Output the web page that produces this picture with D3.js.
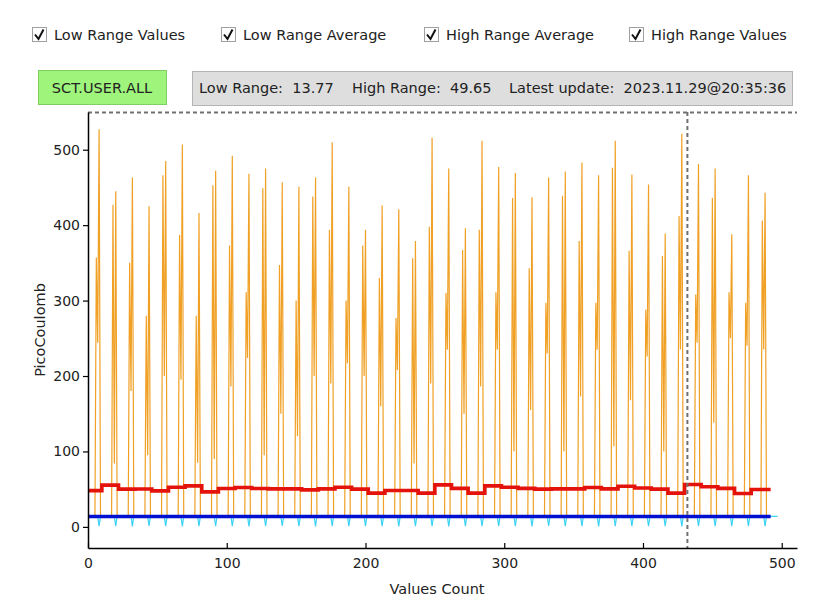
<!DOCTYPE html>
<html>
<head>
<meta charset="utf-8">
<script src="https://cdn.jsdelivr.net/npm/d3@7"></script>
<style>
  html, body { margin: 0; padding: 0; background: #ffffff; }
  svg { display: block; font-family: "DejaVu Sans", sans-serif; }
</style>
</head>
<body>
<svg id="chart" width="820" height="603"></svg>
<script>
// Series legend entries
const legendLabels = ["Low Range Values", "Low Range Average", "High Range Average", "High Range Values"];

// Status bar
const channelName = "SCT.USER.ALL";
const lowRangeLatest = 13.77;
const highRangeLatest = 49.65;
const latestUpdate = "2023.11.29@20:35:36";

// Sample indices where a pulse occurs
const pulseIndex = [8, 20, 32, 44, 56, 68, 80, 92, 104, 116, 128, 140, 152, 164, 176, 188, 200, 212, 224, 236, 248,
  260, 272, 284, 296, 308, 320, 332, 344, 356, 368, 380, 392, 404, 416, 428, 440, 452, 464, 476, 488];

// High range pulse: peak value, and the two intermediate readings on its flanks
const highPeak = [527, 445, 463, 425, 485, 507, 416, 472, 492, 468, 475, 457, 451, 463, 510, 451, 394,
  426, 421, 379, 516, 475, 396, 512, 477, 469, 437, 463, 471, 483,
  466, 512, 467, 454, 389, 521, 481, 475, 388, 466, 443];
const highUpper = [357, 427, 350, 280, 466, 387, 280, 453, 373, 311, 449, 347, 300, 438, 394, 300, 373,
  330, 277, 356, 398, 310, 367, 394, 311, 436, 343, 297, 439, 379,
  297, 476, 366, 288, 359, 412, 308, 436, 311, 297, 406];
const highLower = [244, 84, 180, 95, 200, 195, 85, 90, 186, 224, 95, 150, 120, 200, 190, 217, 200,
  160, 208, 84, 190, 235, 150, 186, 235, 100, 155, 230, 100, 173,
  235, 107, 168, 226, 100, 235, 244, 138, 250, 240, 235];
const highBaseline = 13.5;
const highCount = 493;

// Low range: resting level and the dip reached at each pulse
const lowBaseline = 13.9;
const lowDip = [0.8, 1.0, 0.6, 1.2, 0.9, 0.7, 1.1, 0.8, 1.0, 0.6, 0.9, 1.2, 0.8, 0.7, 1.0, 0.9, 1.1,
  0.8, 0.6, 1.0, 0.9, 0.7, 1.1, 0.8, 1.0, 0.9, 0.6, 1.2, 0.8, 1.0,
  0.7, 0.9, 1.1, 0.8, 1.0, 0.6, 0.9, 1.0, 0.8, 1.1, 0.9];
const lowCount = 498;

// Running averages (step values)
const lowAverage = [13.77, 13.77];
const lowAverageAt = [0, 492];
const highAverageAt = [0, 10, 22, 34, 46, 58, 70, 82, 94, 106, 118, 130, 142, 154, 166, 178, 190, 202, 214, 226,
  238, 250, 262, 274, 286, 298, 310, 322, 334, 346, 358, 370, 382, 394, 406, 418, 430, 442, 454, 466, 478];
const highAverage = [48.1, 55.3, 50.0, 50.2, 47.7, 52.6, 54.4, 46.4, 50.8, 52.2, 50.8, 50.4, 50.4, 49.1, 50.4,
  52.6, 50.0, 44.7, 48.3, 48.3, 44.7, 55.7, 51.1, 44.7, 54.4, 52.6, 51.1, 50.0, 50.4, 50.4,
  52.2, 50.4, 53.9, 51.6, 50.0, 44.7, 56.2, 53.1, 51.1, 44.3, highRangeLatest];
const highAverageEnd = 492;

// Axis ticks and cursor
const xTicks = [0, 100, 200, 300, 400, 500];
const yTicks = [0, 100, 200, 300, 400, 500];
const xDomain = [0, 511];
const yDomain = [-28, 550];
const cursorX = 432;
const cursorY = 550;

// Build the sample series
const highValues = d3.range(highCount).map(() => highBaseline);
pulseIndex.forEach((p, k) => {
  highValues[p - 2] = highUpper[k];
  highValues[p - 1] = highLower[k];
  highValues[p] = highPeak[k];
});
const lowValues = d3.range(lowCount).map(() => lowBaseline);
pulseIndex.forEach((p, k) => { lowValues[p] = lowDip[k]; });

const svg = d3.select("#chart");

// Legend checkboxes
const legendX = [32, 221, 424, 629];
legendLabels.forEach((t, i) => {
  const g = svg.append("g").attr("transform", `translate(${legendX[i]},27)`);
  g.append("rect").attr("x", 0.5).attr("y", 0.5).attr("width", 14).attr("height", 14)
    .attr("fill", "#fff").attr("stroke", "#a0a0a0");
  g.append("path").attr("d", "M3,7.5 L6.5,12 L11.5,2.5")
    .attr("fill", "none").attr("stroke", "#111").attr("stroke-width", 2);
  g.append("text").attr("x", 22).attr("y", 12.5).attr("font-size", 14.5).attr("fill", "#222").text(t);
});

// Status bar
svg.append("rect").attr("x", 38.5).attr("y", 70.5).attr("width", 128).attr("height", 34)
  .attr("fill", "#9ff47c").attr("stroke", "#7fcf60");
svg.append("text").attr("x", 102).attr("y", 92.5).attr("text-anchor", "middle")
  .attr("font-size", 14.5).attr("fill", "#222").text(channelName);
svg.append("rect").attr("x", 192.5).attr("y", 71.5).attr("width", 600).attr("height", 34)
  .attr("fill", "#dedede").attr("stroke", "#b4b4b4");
const status = [
  { x: 199, t: `Low Range:  ${lowRangeLatest.toFixed(2)}` },
  { x: 352, t: `High Range:  ${highRangeLatest.toFixed(2)}` },
  { x: 509, t: `Latest update:  ${latestUpdate}` }
];
status.forEach(s => {
  svg.append("text").attr("x", s.x).attr("y", 93).attr("font-size", 14.5).attr("fill", "#222")
    .attr("xml:space", "preserve").style("white-space", "pre").text(s.t);
});

// Plot
const x = d3.scaleLinear().domain(xDomain).range([88, 797]);
const y = d3.scaleLinear().domain(yDomain).range([548, 112]);

const clip = svg.append("defs").append("clipPath").attr("id", "plotclip");
clip.append("rect").attr("x", 88).attr("y", 112).attr("width", 709).attr("height", 436);
const plot = svg.append("g").attr("clip-path", "url(#plotclip)");

const line = d3.line().x((d, i) => x(i)).y(d => y(d));

plot.append("path").datum(highValues).attr("d", line)
  .attr("fill", "none").attr("stroke", "#f0a024").attr("stroke-width", 1.2);

plot.append("path").datum(lowValues).attr("d", line)
  .attr("fill", "none").attr("stroke", "#3fd2f2").attr("stroke-width", 1.2);

plot.append("path").datum(lowAverage.map((v, i) => [lowAverageAt[i], v]))
  .attr("d", d3.line().x(d => x(d[0])).y(d => y(d[1])))
  .attr("fill", "none").attr("stroke", "#0010d0").attr("stroke-width", 3.6);

const avgPts = highAverage.map((v, i) => [highAverageAt[i], v]);
avgPts.push([highAverageEnd, highAverage[highAverage.length - 1]]);
plot.append("path").datum(avgPts)
  .attr("d", d3.line().curve(d3.curveStepAfter).x(d => x(d[0])).y(d => y(d[1])))
  .attr("fill", "none").attr("stroke", "#e3120b").attr("stroke-width", 3.6);

// Cursor lines
svg.append("line").attr("x1", x(xDomain[0])).attr("x2", x(xDomain[1]))
  .attr("y1", y(cursorY) + 0.5).attr("y2", y(cursorY) + 0.5)
  .attr("stroke", "#707070").attr("stroke-width", 2).attr("stroke-dasharray", "4,3");
svg.append("line").attr("x1", x(cursorX)).attr("x2", x(cursorX))
  .attr("y1", y(yDomain[1])).attr("y2", y(yDomain[0]))
  .attr("stroke", "#707070").attr("stroke-width", 2).attr("stroke-dasharray", "4,3");

// Axes
const xAxis = d3.axisBottom(x).tickValues(xTicks).tickSizeInner(-5).tickSizeOuter(0).tickPadding(10);
const gx = svg.append("g").attr("transform", "translate(0,548)").call(xAxis);
const yAxis = d3.axisLeft(y).tickValues(yTicks).tickSizeInner(5).tickSizeOuter(0).tickPadding(3);
const gy = svg.append("g").attr("transform", "translate(88,0)").call(yAxis);
[gx, gy].forEach(g => {
  g.select(".domain").attr("stroke", "#000").attr("stroke-width", 1.5);
  g.selectAll(".tick line").attr("stroke", "#000").attr("stroke-width", 1.2);
  g.selectAll(".tick text").attr("font-size", 14).attr("fill", "#222")
    .attr("font-family", "DejaVu Sans, sans-serif");
});

svg.append("text").attr("transform", "translate(45,330) rotate(-90)").attr("text-anchor", "middle")
  .attr("font-size", 14.5).attr("fill", "#222").text("PicoCoulomb");
svg.append("text").attr("x", 437).attr("y", 594).attr("text-anchor", "middle")
  .attr("font-size", 14.5).attr("fill", "#222").text("Values Count");
</script>
</body>
</html>
